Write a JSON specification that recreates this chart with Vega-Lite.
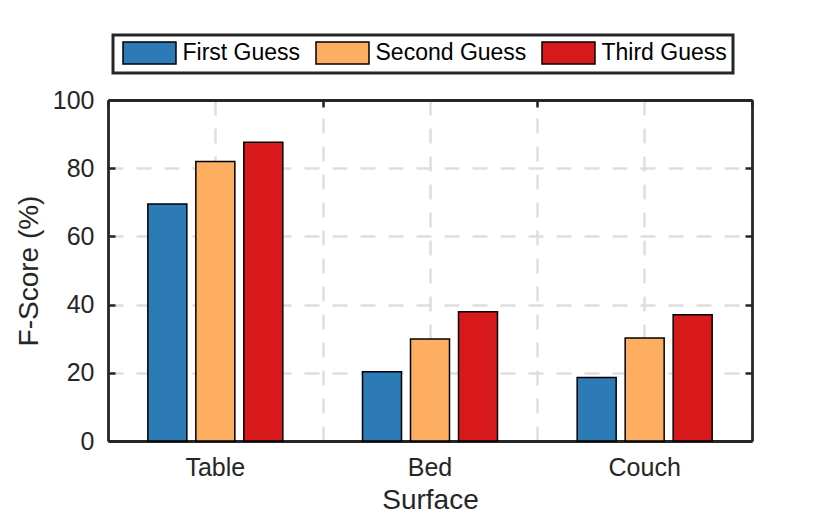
{
  "$schema": "https://vega.github.io/schema/vega-lite/v6.json",
  "width": 644,
  "height": 341,
  "autosize": {"type": "none"},
  "padding": {"left": 108, "top": 100, "right": 78, "bottom": 76},
  "background": "white",
  "config": {
    "font": "Liberation Sans",
    "view": {"stroke": null},
    "axis": {
      "domainColor": "#262626",
      "domainWidth": 2.8,
      "tickColor": "#262626",
      "tickWidth": 2.5,
      "labelColor": "#262626",
      "labelFont": "Liberation Sans",
      "labelFontSize": 25,
      "titleColor": "#262626",
      "titleFont": "Liberation Sans",
      "titleFontSize": 28,
      "titleFontWeight": "normal",
      "gridColor": "#dedede",
      "gridWidth": 2.5,
      "gridDash": [15, 13]
    }
  },
  "data": {
    "values": [
      {"Surface": "Table", "Guess": "First Guess", "Score": 69.5},
      {"Surface": "Table", "Guess": "Second Guess", "Score": 82.0},
      {"Surface": "Table", "Guess": "Third Guess", "Score": 87.6},
      {"Surface": "Bed", "Guess": "First Guess", "Score": 20.3},
      {"Surface": "Bed", "Guess": "Second Guess", "Score": 29.9},
      {"Surface": "Bed", "Guess": "Third Guess", "Score": 37.9},
      {"Surface": "Couch", "Guess": "First Guess", "Score": 18.6},
      {"Surface": "Couch", "Guess": "Second Guess", "Score": 30.2},
      {"Surface": "Couch", "Guess": "Third Guess", "Score": 37.0}
    ]
  },
  "layer": [
    {
      "mark": {"type": "bar", "stroke": "#000000", "strokeWidth": 1.5, "opacity": 1},
      "encoding": {
        "x": {
          "field": "Surface",
          "type": "nominal",
          "sort": ["Table", "Bed", "Couch"],
          "scale": {"paddingInner": 0, "paddingOuter": 0},
          "axis": {
            "orient": "bottom",
            "title": "Surface",
            "labelAngle": 0,
            "bandPosition": 0.5,
            "grid": true,
            "ticks": false,
            "domain": true,
            "labelPadding": 14,
            "titlePadding": 6
          }
        },
        "xOffset": {
          "field": "Guess",
          "type": "nominal",
          "sort": ["First Guess", "Second Guess", "Third Guess"],
          "scale": {"paddingInner": 0.1875, "paddingOuter": 0.83}
        },
        "y": {
          "field": "Score",
          "type": "quantitative",
          "scale": {"domain": [0, 100], "nice": false},
          "axis": {
            "orient": "left",
            "title": "F-Score (%)",
            "values": [0, 20, 40, 60, 80, 100],
            "grid": true,
            "ticks": true,
            "tickSize": -7,
            "labelPadding": 21,
            "titlePadding": 9
          }
        },
        "fill": {
          "field": "Guess",
          "type": "nominal",
          "sort": ["First Guess", "Second Guess", "Third Guess"],
          "scale": {"range": ["#2c7bb6", "#fdae61", "#d7191c"]},
          "legend": {
            "title": null,
            "orient": "none",
            "legendX": 5,
            "legendY": -65,
            "direction": "horizontal",
            "strokeColor": "#262626",
            "fillColor": "#ffffff",
            "padding": 6,
            "symbolType": "M-0.727,-1L4.09,-1L4.09,1L-0.727,1Z",
            "symbolSize": 484,
            "symbolStrokeColor": "#000000",
            "symbolStrokeWidth": 1.5,
            "symbolOpacity": 1,
            "labelOffset": 39.5,
            "labelFont": "Liberation Sans",
            "labelFontSize": 23,
            "labelColor": "#000000",
            "columnPadding": 11,
            "labelLimit": 400,
            "labelExpr": "datum.label == 'Third Guess' ? datum.label + '\u00a0\u00a0' : datum.label",
            "encode": {"legend": {"update": {"strokeWidth": {"value": 3}}}}
          }
        }
      }
    },
    {
      "mark": {"type": "bar", "opacity": 0},
      "encoding": {
        "x": {
          "field": "Surface",
          "type": "nominal",
          "sort": ["Table", "Bed", "Couch"],
          "axis": {
            "orient": "top",
            "title": null,
            "labels": false,
            "tickBand": "extent",
            "grid": true,
            "ticks": true,
            "tickSize": -7,
            "domain": true
          }
        },
        "xOffset": {
          "field": "Guess",
          "type": "nominal",
          "sort": ["First Guess", "Second Guess", "Third Guess"]
        },
        "y": {
          "field": "Score",
          "type": "quantitative",
          "axis": {
            "orient": "right",
            "title": null,
            "labels": false,
            "values": [0, 20, 40, 60, 80, 100],
            "grid": false,
            "ticks": true,
            "tickSize": -7,
            "domain": true
          }
        }
      }
    }
  ],
  "resolve": {"axis": {"x": "independent", "y": "independent"}}
}
